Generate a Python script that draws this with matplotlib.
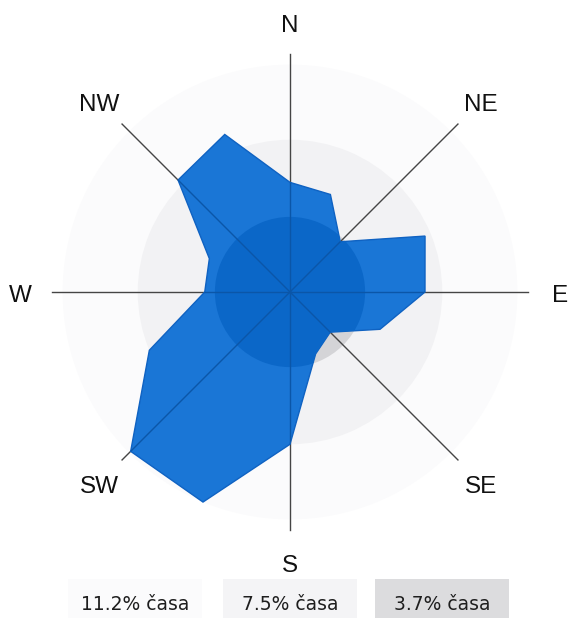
import numpy as np
import matplotlib.pyplot as plt
from matplotlib.patches import Rectangle
from matplotlib.transforms import ScaledTranslation

# Veterna ruzica - podiel casu (%) podla 16 smerov, od N v smere hodin
smery = ['N', 'NNE', 'NE', 'ENE', 'E', 'ESE', 'SE', 'SSE',
         'S', 'SSW', 'SW', 'WSW', 'W', 'WNW', 'NW', 'NNW']
podiel = [5.4, 5.2, 3.5, 7.2, 6.65, 4.8, 2.8, 3.3,
          7.5, 11.2, 11.1, 7.5, 4.2, 4.3, 7.8, 8.4]

kruhy = [11.2, 7.5, 3.7]
kruhy_farby = ['#fbfbfc', '#f2f2f4', '#d4d4d7']

popisky = ['N', 'NE', 'E', 'SE', 'S', 'SW', 'W', 'NW']
legenda = ['11.2% časa', '7.5% časa', '3.7% časa']
legenda_farby = ['#fbfbfc', '#f4f4f6', '#dcdcde']

W, H = 568, 618
cx, cy = 290, 292
R = 285
px_na_pct = 20.3

fig = plt.figure(figsize=(W / 100, H / 100), dpi=100)
fig.patch.set_facecolor('white')
ax = fig.add_axes([(cx - R) / W, (H - cy - R) / H, 2 * R / W, 2 * R / H],
                  projection='polar')
ax.set_theta_zero_location('N')
ax.set_theta_direction(-1)
ax.set_ylim(0, R / px_na_pct)
ax.axis('off')

# sive kruhy v pozadi
for r, c in zip(kruhy, kruhy_farby):
    ax.bar(0, r, width=2 * np.pi, bottom=0, color=c, linewidth=0, zorder=1)

# osi svetovych stran
uhly = np.deg2rad(np.arange(8) * 45)
for a in uhly:
    ax.plot([a, a], [0, 11.7], color='#454545', lw=1, zorder=2)

# modry polygon
theta = np.deg2rad(np.arange(len(smery)) * 22.5)
poly = ax.fill(np.r_[theta, theta[0]], np.r_[podiel, podiel[0]],
               facecolor='#1a76d6', edgecolor='#0f62c2', lw=1, zorder=3)[0]

# tmavsi stred (vnutorny kruh presvitajuci cez polygon)
vnutro = ax.bar(0, kruhy[2], width=2 * np.pi, bottom=0, color='#0b67c8',
                linewidth=0, zorder=4)
vnutro[0].set_clip_path(poly)

for a in uhly:
    ln, = ax.plot([a, a], [0, 11.7], color='#0b56a8', lw=1, zorder=5)
    ln.set_clip_path(poly)

posun = ax.transData + ScaledTranslation(0, -0.04, fig.dpi_scale_trans)
for a, lab in zip(uhly, popisky):
    ax.text(a, 13.3, lab, ha='center', va='center', fontsize=17.5,
            family='Liberation Sans', color='#111111', transform=posun)

# legenda
stredy = [135, 290, 442]
for x, txt, c in zip(stredy, legenda, legenda_farby):
    fig.patches.append(Rectangle(((x - 67) / W, 0), 134 / W, 39 / H,
                                 transform=fig.transFigure,
                                 facecolor=c, edgecolor='none'))
    fig.text(x / W, 1 - 604 / H, txt, ha='center', va='center',
             fontsize=13.5, family='DejaVu Sans', color='#1e1e1e')

fig.savefig('out.png', dpi=100)
